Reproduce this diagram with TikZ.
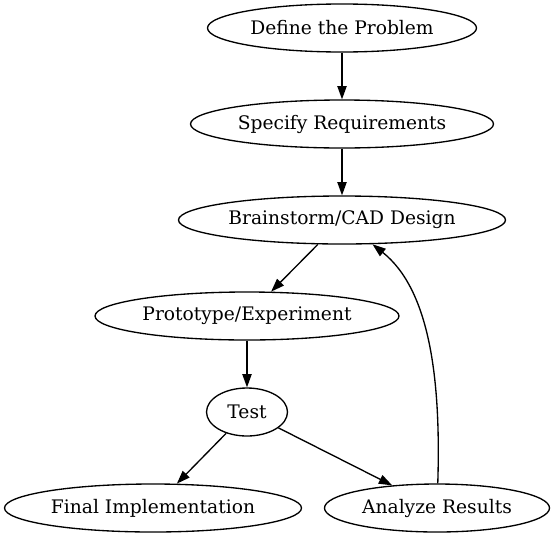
\documentclass[tikz,border=0pt]{standalone}
\usepackage{fontspec}
\setmainfont{DejaVu Serif}
\usetikzlibrary{shapes.geometric,arrows.meta}
\begin{document}
\begin{tikzpicture}[x=0.75pt,y=-0.75pt,
  el/.style={draw,ellipse,line width=1pt,inner sep=0pt,minimum height=36pt,font=\fontsize{14}{16}\selectfont},
  arr/.style={line width=1pt,-{Triangle[length=10pt,width=7pt]}}]
\useasboundingbox (0,0) rectangle (555,539);
\node[el,minimum width=201.75pt] (def) at (342,28) {Define the Problem};
\node[el,minimum width=227.25pt] (spec) at (342,124) {Specify Requirements};
\node[el,minimum width=245.25pt] (brain) at (342,220) {Brainstorm/CAD Design};
\node[el,minimum width=228pt] (proto) at (247,316) {Prototype/Experiment};
\node[el,minimum width=60.75pt] (test) at (247,412) {Test};
\node[el,minimum width=222.75pt] (final) at (153,508) {Final Implementation};
\node[el,minimum width=168.75pt] (ana) at (437,508) {Analyze Results};
\draw[arr] (def) -- (spec);
\draw[arr] (spec) -- (brain);
\draw[arr] (brain) -- (proto);
\draw[arr] (proto) -- (test);
\draw[arr] (test) -- (final);
\draw[arr] (test) -- (ana);
\draw[arr] (ana) .. controls (441,380) and (430,290) .. (brain);
\end{tikzpicture}
\end{document}
